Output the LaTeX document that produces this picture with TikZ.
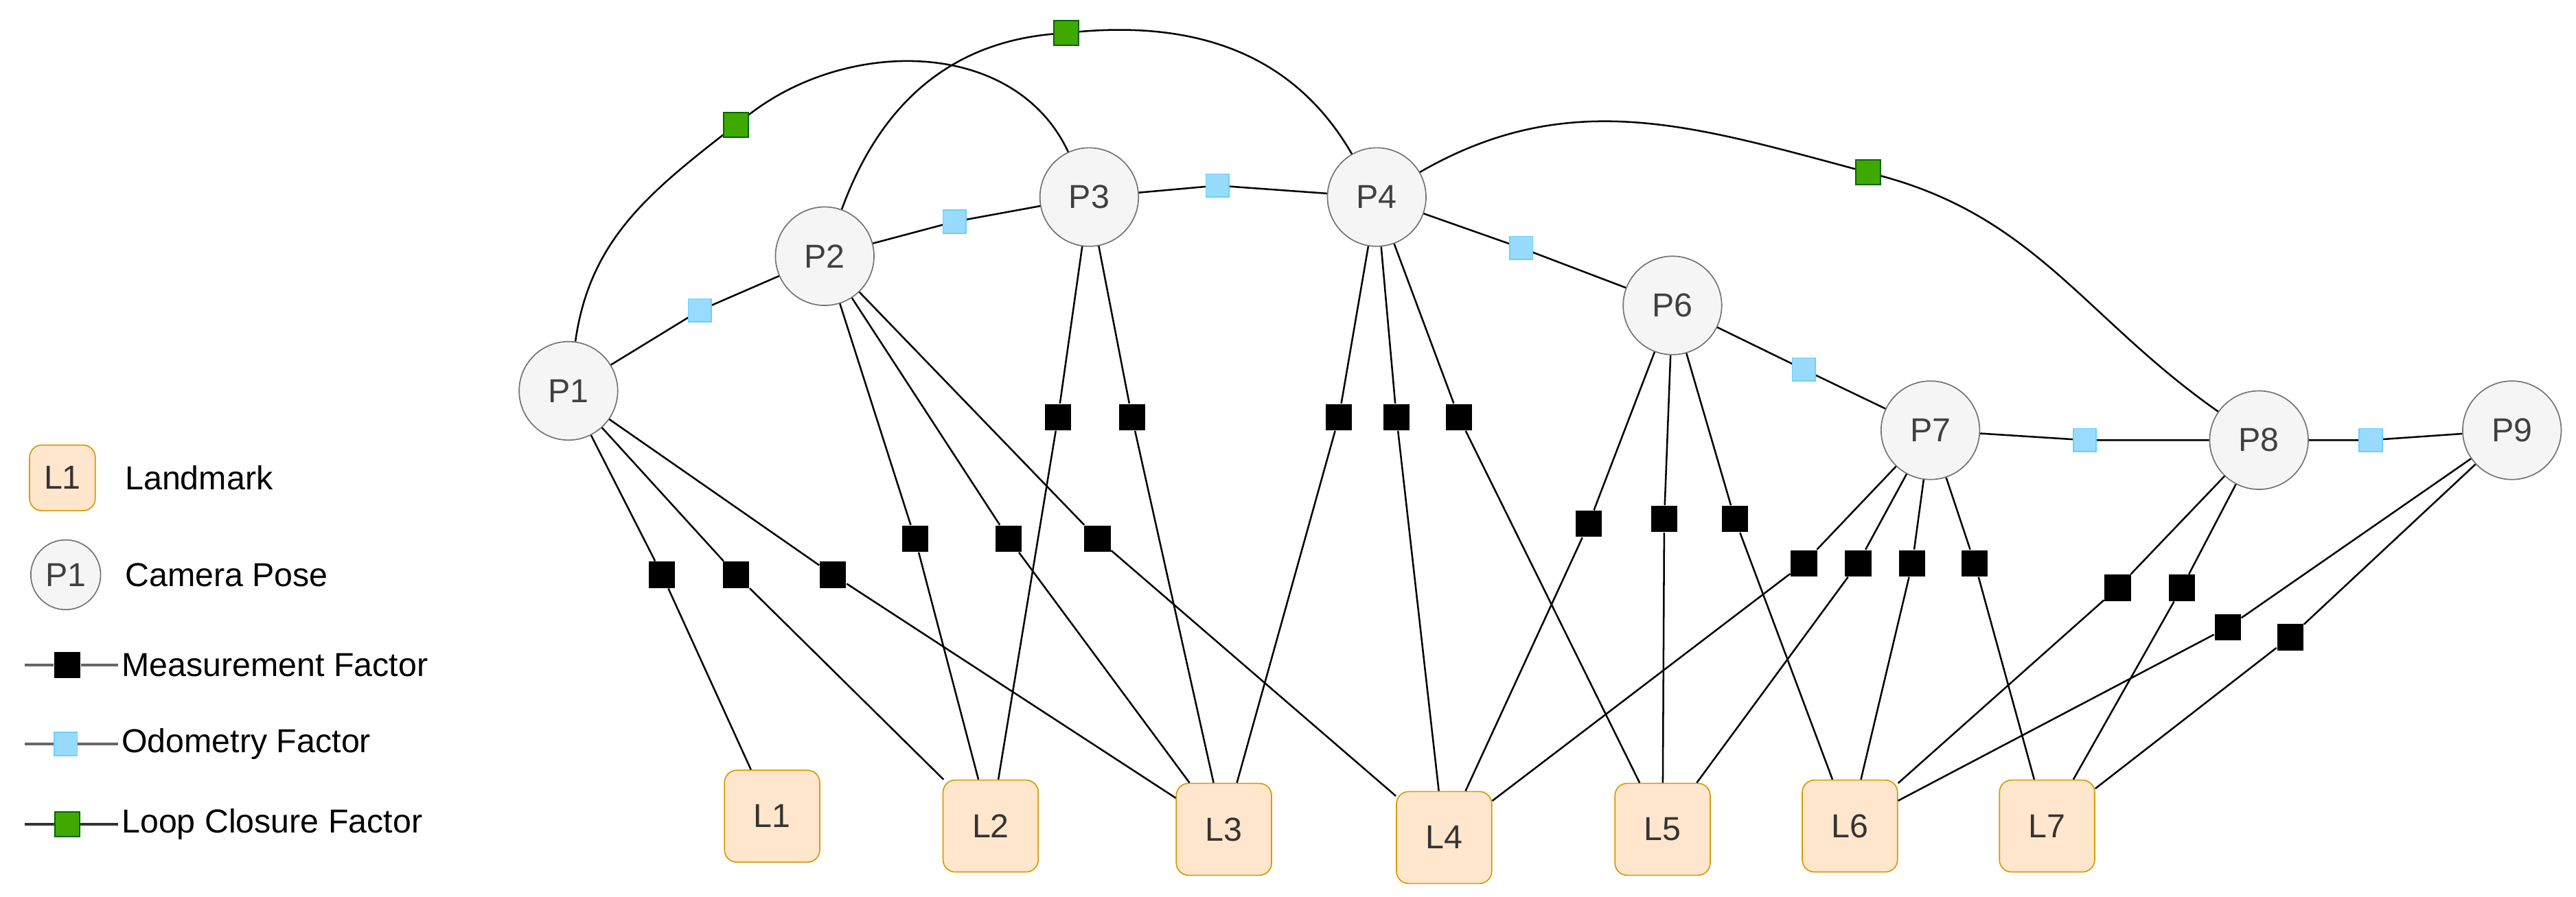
\documentclass[tikz,border=0pt]{standalone}
\usepackage{fontspec}
\setmainfont{Liberation Sans}
\definecolor{lmd}{HTML}{D79B00}
\definecolor{lmf}{HTML}{FFE6CC}
\begin{document}
\begin{tikzpicture}[x=0.02cm,y=-0.02cm,
  font=\fontsize{11.5}{14}\selectfont,
  pose/.style={circle,draw=black!55,fill=black!4,text=black!75,minimum size=1.2cm,inner sep=0pt},
  lm/.style={rectangle,rounded corners=0.15cm,draw=lmd,fill=lmf,text=black!80,minimum width=1.16cm,minimum height=1.12cm,inner sep=0pt},
  mf/.style={rectangle,fill=black,minimum size=0.32cm,inner sep=0pt},
  of/.style={rectangle,fill=blue!35!cyan!40,draw=blue!30!cyan!60,minimum size=0.28cm,inner sep=0pt},
  lf/.style={rectangle,fill=green!55!black!75!yellow,draw=green!40!black,minimum size=0.3cm,inner sep=0pt},
  e/.style={draw=black,line width=0.6pt}]
\useasboundingbox (0,0) rectangle (1568,546);
% poses
\node[pose] (P1) at (346,238) {P1};
\node[pose] (P2) at (502,156) {P2};
\node[pose] (P3) at (663,120) {P3};
\node[pose] (P4) at (838,120) {P4};
\node[pose] (P6) at (1018,186) {P6};
\node[pose] (P7) at (1175,262) {P7};
\node[pose] (P8) at (1375,268) {P8};
\node[pose] (P9) at (1529,262) {P9};
% landmarks
\node[lm] (L1) at (470,497) {L1};
\node[lm] (L2) at (603,503) {L2};
\node[lm] (L3) at (745,505) {L3};
\node[lm] (L4) at (879,510) {L4};
\node[lm] (L5) at (1012,505) {L5};
\node[lm] (L6) at (1126,503) {L6};
\node[lm] (L7) at (1246,503) {L7};
% measurement factors
\foreach \p/\l/\x/\y/\n in {P1/L1/403/350/a,P1/L2/448/350/b,P1/L3/507/350/c,
  P2/L2/557/328/d,P2/L3/614/328/e,P2/L4/668/328/f,P3/L2/644/254/g,P3/L3/689/254/h,
  P4/L3/815/254/i,P4/L4/850/254/j,P4/L5/888/254/k,P6/L4/967/319/l,P6/L5/1013/316/m,
  P6/L6/1056/316/n,P7/L4/1098/343/o,P7/L5/1131/343/p,P7/L6/1164/343/q,P7/L7/1202/343/r,
  P8/L6/1289/358/s,P8/L7/1328/358/t,P9/L6/1356/382/u,P9/L7/1394/388/v}{
  \node[mf] (m\n) at (\x,\y) {};
  \draw[e] (\p) -- (m\n) -- (\l);
}
% odometry factors
\foreach \a/\b/\x/\y/\n in {P1/P2/426/189/1,P2/P3/581/135/2,P3/P4/741/113/3,P4/P6/926/151/4,
  P6/P7/1098/225/5,P7/P8/1269/268/6,P8/P9/1443/268/7}{
  \draw[e] (\a) -- (\x,\y) -- (\b);
  \node[of] (o\n) at (\x,\y) {};
}
% loop closures
\node[lf] (c1) at (448,76) {};
\node[lf] (c2) at (649,20) {};
\node[lf] (c3) at (1137,105) {};
\draw[e] (P1) to[out=82,in=218] (c1) to[out=38,in=115] (P3);
\draw[e] (P2) to[out=70,in=185] (c2) to[out=5,in=120] (P4);
\draw[e] (P4) to[out=30,in=165] (c3) to[out=-15,in=145] (P8);
\node[lf] at (c1) {};
\node[lf] at (c2) {};
\node[lf] at (c3) {};
% legend
\node[lm,minimum width=0.8cm,minimum height=0.8cm] (kL) at (38,291) {L1};
\node[anchor=west] (tL) at (70,291) {Landmark};
\node[pose,minimum size=0.85cm] (kP) at (40,350) {P1};
\node[anchor=west] (tP) at (70,350) {Camera Pose};
\coordinate (m0) at (15,405); \node[mf] (km) at (41,405) {}; \node[anchor=west,inner sep=1pt] (tm) at (72,405) {Measurement Factor};
\draw[line width=1pt,black!60] (m0) -- (km) -- (tm);
\coordinate (o0) at (15,453); \node[of] (ko) at (40,453) {}; \node[anchor=west,inner sep=1pt] (to) at (72,453) {Odometry Factor};
\draw[line width=1pt,black!60] (o0) -- (ko) -- (to);
\coordinate (l0) at (15,502); \node[lf] (kl) at (41,502) {}; \node[anchor=west,inner sep=1pt] (tl) at (72,502) {Loop Closure Factor};
\draw[line width=1pt,black!80] (l0) -- (kl) -- (tl);
\node[of] at (ko) {}; \node[lf] at (kl) {};
\end{tikzpicture}
\end{document}
